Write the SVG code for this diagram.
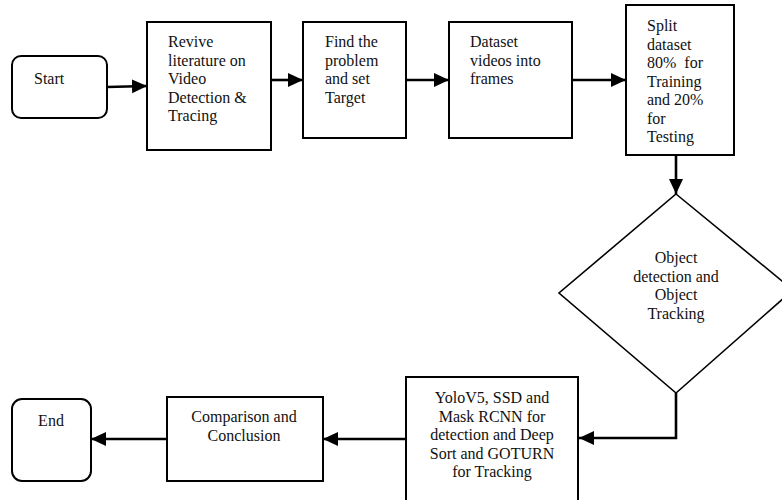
<svg xmlns="http://www.w3.org/2000/svg" width="782" height="500" viewBox="0 0 782 500">
<defs>
<style>
.box{fill:#fff;stroke:#000;stroke-width:2}
.dia{fill:#fff;stroke:#000;stroke-width:1.6}
.t{font-family:"Liberation Serif","Times New Roman",serif;font-size:16px;fill:#111}
.c{text-anchor:middle}
.conn{fill:none;stroke:#000;stroke-width:2.6}
</style>
<marker id="ah" markerUnits="userSpaceOnUse" markerWidth="16" markerHeight="15" refX="15" refY="7" orient="auto">
<path d="M0,0 L15,7 L0,14 z" fill="#000"/>
</marker>
</defs>
<rect width="782" height="500" fill="#fff"/>
<g id="connectors">
<path class="conn" d="M107,87 L147,86" marker-end="url(#ah)"/>
<path class="conn" d="M271,80 L303,80" marker-end="url(#ah)"/>
<path class="conn" d="M406,80 L449,80" marker-end="url(#ah)"/>
<path class="conn" d="M572,80 L626,80" marker-end="url(#ah)"/>
<path class="conn" d="M676,155 L676,194" marker-end="url(#ah)"/>
<path class="conn" d="M676,393 L676,438 L579,438" marker-end="url(#ah)"/>
<path class="conn" d="M406,439 L323,439" marker-end="url(#ah)"/>
<path class="conn" d="M167,439 L91,439" marker-end="url(#ah)"/>
</g>
<g id="start">
<rect class="box" x="12" y="56" width="95" height="62" rx="9"/>
<text class="t" x="34" y="84">Start</text>
</g>
<g id="revive">
<rect class="box" x="147" y="22" width="124" height="128"/>
<text class="t" x="168" y="47">Revive</text>
<text class="t" x="168" y="65.5">literature on</text>
<text class="t" x="168" y="84">Video</text>
<text class="t" x="168" y="102.5">Detection &amp;</text>
<text class="t" x="168" y="121">Tracing</text>
</g>
<g id="find">
<rect class="box" x="303" y="22" width="103" height="116"/>
<text class="t" x="325" y="47">Find the</text>
<text class="t" x="325" y="65.5">problem</text>
<text class="t" x="325" y="84">and set</text>
<text class="t" x="325" y="102.5">Target</text>
</g>
<g id="dataset">
<rect class="box" x="449" y="22" width="123" height="116"/>
<text class="t" x="470" y="47">Dataset</text>
<text class="t" x="470" y="65.5">videos into</text>
<text class="t" x="470" y="84">frames</text>
</g>
<g id="split">
<rect class="box" x="626" y="5" width="108" height="150"/>
<text class="t" x="647" y="31">Split</text>
<text class="t" x="647" y="49.5">dataset</text>
<text class="t" x="647" y="68" style="white-space:pre">80%  for</text>
<text class="t" x="647" y="86.5">Training</text>
<text class="t" x="647" y="105">and 20%</text>
<text class="t" x="647" y="123.5">for</text>
<text class="t" x="647" y="142">Testing</text>
</g>
<g id="decision">
<polygon class="dia" points="676,194 793,290 676,393 559,293"/>
<text class="t c" x="676" y="263">Object</text>
<text class="t c" x="676" y="281.5">detection and</text>
<text class="t c" x="676" y="300">Object</text>
<text class="t c" x="676" y="318.5">Tracking</text>
</g>
<g id="models">
<rect class="box" x="406" y="377" width="172" height="130"/>
<text class="t c" x="492" y="403">YoloV5, SSD and</text>
<text class="t c" x="492" y="421.5">Mask RCNN for</text>
<text class="t c" x="492" y="440">detection and Deep</text>
<text class="t c" x="492" y="458.5">Sort and GOTURN</text>
<text class="t c" x="492" y="477">for Tracking</text>
</g>
<g id="comparison">
<rect class="box" x="167" y="397" width="156" height="84"/>
<text class="t c" x="244" y="422">Comparison and</text>
<text class="t c" x="244" y="441">Conclusion</text>
</g>
<g id="end">
<rect class="box" x="12" y="399" width="79" height="82" rx="10"/>
<text class="t c" x="51" y="426">End</text>
</g>
</svg>
